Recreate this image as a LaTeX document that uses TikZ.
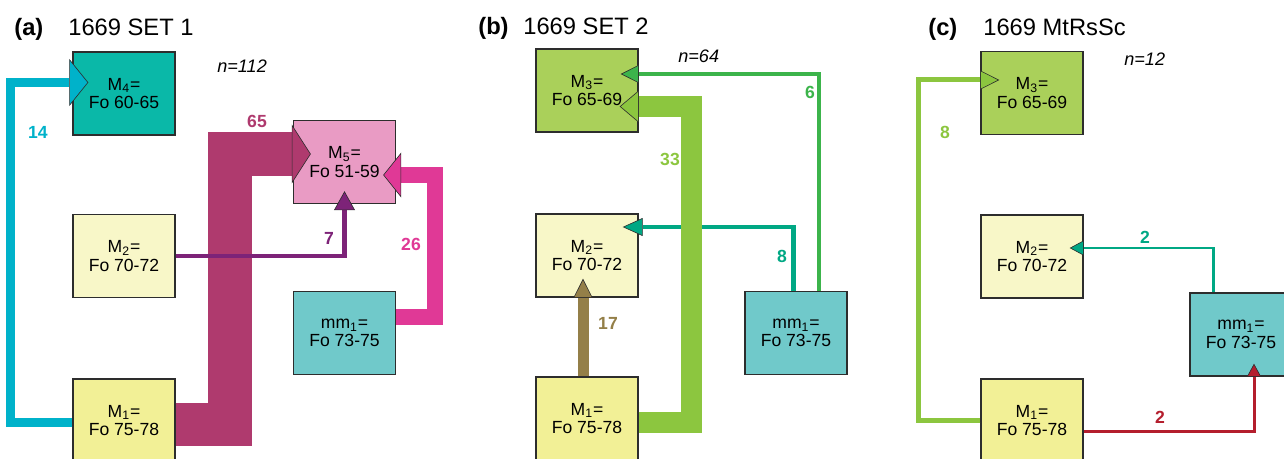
\documentclass[tikz,border=0pt]{standalone}
\usepackage{fontspec}
\setmainfont{Liberation Sans}
\usetikzlibrary{arrows.meta,calc}
\definecolor{boxline}{RGB}{45,45,45}
\definecolor{fillMone}{RGB}{242,240,150}
\definecolor{fillMtwo}{RGB}{248,247,200}
\definecolor{fillMthree}{RGB}{170,208,90}
\definecolor{fillMfour}{RGB}{10,184,168}
\definecolor{fillMfive}{RGB}{233,155,196}
\definecolor{fillmm}{RGB}{112,201,202}
\definecolor{flowcyan}{RGB}{0,178,202}
\definecolor{flowmaroon}{RGB}{175,58,110}
\definecolor{flowpurple}{RGB}{125,35,120}
\definecolor{flowpink}{RGB}{224,57,150}
\definecolor{flowgreen}{RGB}{60,180,75}
\definecolor{flowlime}{RGB}{140,198,63}
\definecolor{flowteal}{RGB}{0,168,132}
\definecolor{flowolive}{RGB}{148,127,72}
\definecolor{flowred}{RGB}{180,30,45}

\tikzset{
  mbox/.style={draw=boxline, line width=0.8pt, minimum width=2.04cm, minimum height=1.66cm,
    inner sep=0pt, align=center, font=\fontsize{10}{10.5}\selectfont},
  flow/.style={line join=miter},
  head/.style n args={3}{-{Triangle[length=#1, width=#2, fill=#3, color=boxline, line width=0.35pt]}},
  paneltag/.style={anchor=base west, inner sep=0pt, font=\bfseries\fontsize{13.5}{16}\selectfont},
  paneltitle/.style={anchor=base west, inner sep=0pt, font=\fontsize{13.5}{16}\selectfont},
  count/.style={anchor=base west, inner sep=0pt, font=\itshape\fontsize{10.3}{12}\selectfont},
  flowlabel/.style={inner sep=0pt, font=\bfseries\fontsize{10}{12}\selectfont}
}

\begin{document}
\begin{tikzpicture}[x=0.02cm, y=-0.02cm]
    \useasboundingbox (0,0) rectangle (1284,459);
    \clip (0,0) rectangle (1284,459);

    % (a) 1669 SET 1
    \begin{scope}
        \node[paneltag] (a-tag) at (14,36) {(a)};
        \node[paneltitle] (a-title) at (68,36) {1669 SET 1};
        \node[count] (a-n) at (217,73) {n=112};
        \node[mbox, fill=fillMfour] (a-M4) at (124,93.5) {M\textsubscript{4}=\\Fo 60-65};
        \node[mbox, fill=fillMfive] (a-M5) at (344.5,162) {M\textsubscript{5}=\\Fo 51-59};
        \node[mbox, fill=fillMtwo] (a-M2) at (124,256) {M\textsubscript{2}=\\Fo 70-72};
        \node[mbox, fill=fillmm] (a-mm) at (344.5,333) {mm\textsubscript{1}=\\Fo 73-75};
        \node[mbox, fill=fillMone] (a-M1) at (124,420.5) {M\textsubscript{1}=\\Fo 75-78};

        \draw[flow, flowcyan, line width=0.18cm, head={0.38cm}{0.94cm}{flowcyan}]
            ($(a-M1.west)+(0,2)$) -- ++(-62,0) |- ($(a-M4.west)+(16,-11)$);
        \draw[flow, flowmaroon, line width=0.88cm, head={0.38cm}{1.18cm}{flowmaroon}]
            ($(a-M1.east)+(0,4)$) -- ++(54,0) |- ($(a-M5.west)+(18,-8)$);
        \draw[flow, flowpurple, line width=0.1cm, head={0.38cm}{0.42cm}{flowpurple}]
            (a-M2.east) -| ($(a-M5.south)+(0,-13)$);
        \draw[flow, flowpink, line width=0.33cm, head={0.36cm}{0.9cm}{flowpink}]
            ($(a-mm.east)+(0,-16)$) -- ++(39,0) |- ($(a-M5.east)+(-13,13)$);

        \node[flowlabel, flowcyan] (a-l14) at (38,132) {14};
        \node[flowlabel, flowmaroon] (a-l65) at (257,121) {65};
        \node[flowlabel, flowpurple] (a-l7) at (329,238) {7};
        \node[flowlabel, flowpink] (a-l26) at (411,244) {26};
    \end{scope}

    % (b) 1669 SET 2
    \begin{scope}
        \node[paneltag] (b-tag) at (478,35) {(b)};
        \node[paneltitle] (b-title) at (523,35) {1669 SET 2};
        \node[count] (b-n) at (678,63) {n=64};
        \node[mbox, fill=fillMthree] (b-M3) at (587,90.5) {M\textsubscript{3}=\\Fo 65-69};
        \node[mbox, fill=fillMtwo] (b-M2) at (587,255.5) {M\textsubscript{2}=\\Fo 70-72};
        \node[mbox, fill=fillmm] (b-mm) at (796,333) {mm\textsubscript{1}=\\Fo 73-75};
        \node[mbox, fill=fillMone] (b-M1) at (587,418.5) {M\textsubscript{1}=\\Fo 75-78};

        \draw[flow, flowgreen, line width=0.07cm, head={0.36cm}{0.36cm}{flowgreen}]
            ($(b-mm.north)+(23,0)$) |- ($(b-M3.east)+(-18,-16.5)$);
        \draw[flow, flowteal, line width=0.1cm, head={0.4cm}{0.36cm}{flowteal}]
            ($(b-mm.north)+(-3,0)$) |- ($(b-M2.east)+(-16,-28.5)$);
        \draw[flow, flowlime, line width=0.42cm, head={0.38cm}{0.64cm}{flowlime}]
            ($(b-M1.east)+(0,3.5)$) -- ++(53,0) |- ($(b-M3.east)+(-19,16)$);
        \draw[flow, flowolive, line width=0.22cm, head={0.38cm}{0.38cm}{flowolive}]
            ($(b-M1.north)+(-4,0)$) -- ($(b-M2.south)+(-4,-19)$);

        \node[flowlabel, flowgreen] (b-l6) at (810,92) {6};
        \node[flowlabel, flowlime] (b-l33) at (670,159) {33};
        \node[flowlabel, flowteal] (b-l8) at (782,256) {8};
        \node[flowlabel, flowolive] (b-l17) at (608,323) {17};
    \end{scope}

    % (c) 1669 MtRsSc
    \begin{scope}
        \node[paneltag] (c-tag) at (928,36) {(c)};
        \node[paneltitle] (c-title) at (983,36) {1669 MtRsSc};
        \node[count] (c-n) at (1124,66) {n=12};
        \node[mbox, fill=fillMthree] (c-M3) at (1032,93) {M\textsubscript{3}=\\Fo 65-69};
        \node[mbox, fill=fillMtwo] (c-M2) at (1032,256.5) {M\textsubscript{2}=\\Fo 70-72};
        \node[mbox, fill=fillmm] (c-mm) at (1241,334.5) {mm\textsubscript{1}=\\Fo 73-75};
        \node[mbox, fill=fillMone] (c-M1) at (1032,420.5) {M\textsubscript{1}=\\Fo 75-78};

        \draw[flow, flowlime, line width=0.1cm, head={0.38cm}{0.38cm}{flowlime}]
            (c-M1.west) -- ++(-62,0) |- ($(c-M3.west)+(19,-13)$);
        \draw[flow, flowteal, line width=0.06cm, head={0.28cm}{0.3cm}{flowteal}]
            ($(c-mm.north)+(-28,0)$) |- ($(c-M2.east)+(-14,-8.5)$);
        \draw[flow, flowred, line width=0.06cm, head={0.26cm}{0.28cm}{flowred}]
            ($(c-M1.east)+(0,10.5)$) -| ($(c-mm.south)+(13,-13)$);

        \node[flowlabel, flowlime] (c-l8) at (945,132) {8};
        \node[flowlabel, flowteal] (c-l2a) at (1145,237) {2};
        \node[flowlabel, flowred] (c-l2b) at (1160,417) {2};
    \end{scope}
\end{tikzpicture}
\end{document}
